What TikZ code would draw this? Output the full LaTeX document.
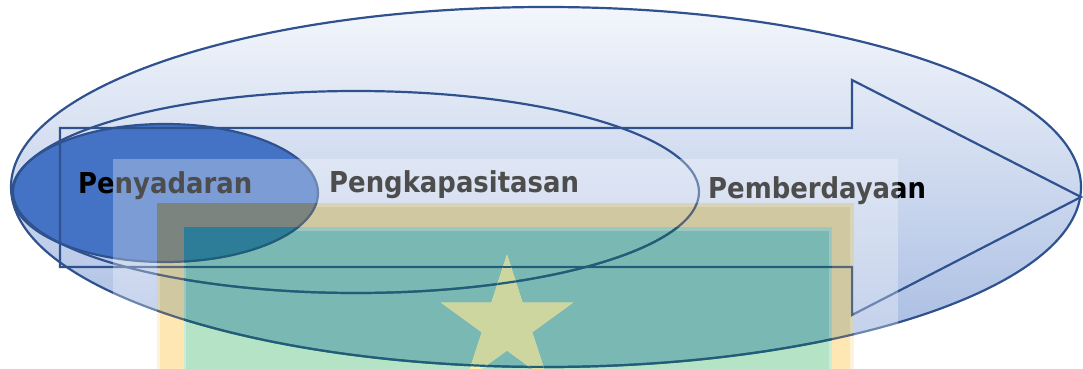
\documentclass[tikz,border=0pt]{standalone}
\usepackage{fontspec}
\newfontfamily\labelfont{DejaVu Sans Condensed}
\definecolor{lineblue}{HTML}{2F528F}
\definecolor{fillblue}{HTML}{4472C4}
\definecolor{gradtop}{HTML}{F3F6FB}
\definecolor{gradbottom}{HTML}{A4B9E1}
% emblem colours on the plain page
\definecolor{yellowlight}{HTML}{FFF2DA}
\definecolor{yellowmain}{HTML}{FFE7B3}
\definecolor{greenlight}{HTML}{CDEBD8}
\definecolor{greenmain}{HTML}{B4E3C5}
% emblem colours seen through the blue ellipse
\definecolor{tanlight}{HTML}{DAD4B6}
\definecolor{tanmain}{HTML}{D0C8A1}
\definecolor{teallight}{HTML}{9CC7C0}
\definecolor{tealmain}{HTML}{7AB8B3}
% blue shapes seen through the emblem
\definecolor{ovalonframe}{HTML}{7C8480}
\definecolor{ovalonfield}{HTML}{2E7D98}
\definecolor{lineonframe}{HTML}{56657A}
\definecolor{lineonfield}{HTML}{1F5E78}
\definecolor{starfill}{HTML}{CCD69E}
\definecolor{starbright}{HTML}{FFF0A0}
\begin{document}
\begin{tikzpicture}[x=1pt,y=-1pt,
  outline/.style={draw=lineblue, line width=2.2pt, line join=miter},
  steplabel/.style={font=\labelfont\bfseries\fontsize{28.8}{30}\selectfont,
    anchor=base west, inner sep=0pt, text=black}]
\useasboundingbox (0,0) rectangle (1083,369);
\clip (0,0) rectangle (1083,369);

% outer ellipse with vertical gradient
\path[top color=gradtop, bottom color=gradbottom]
  (546,187) ellipse [x radius=535pt, y radius=180pt];
% innermost stage
\fill[fillblue] (165,193) ellipse [x radius=153pt, y radius=69pt];

% outlines
\draw[outline] (546,187) ellipse [x radius=535pt, y radius=180pt];
\draw[outline] (356,192) ellipse [x radius=343pt, y radius=101pt];
\draw[outline] (165,193) ellipse [x radius=153pt, y radius=69pt];
\draw[outline] (60,128) -- (852,128) -- (852,80) -- (1081,197)
  -- (852,315) -- (852,267) -- (60,267) -- cycle;

% stage labels
\node[steplabel] (penyadaran) at (78,193) {Penyadaran};
\node[steplabel] (pengkapasitasan) at (329,192) {Pengkapasitasan};
\node[steplabel] (pemberdayaan) at (708,198) {Pemberdayaan};

% emblem backdrop
\fill[white, opacity=0.3] (113,159) rectangle (898,372);

% emblem on the plain page
\fill[yellowlight] (157,203) rectangle (854,372);
\fill[yellowmain] (160,207) rectangle (850,372);
\fill[greenlight] (184,227) rectangle (832,372);
\fill[greenmain] (186,231) rectangle (829,372);

% emblem where the blue ellipse lies over it
\begin{scope}
  \clip (546,187) ellipse [x radius=535pt, y radius=180pt];
  \fill[tanlight] (157,203) rectangle (854,372);
  \fill[tanmain] (160,207) rectangle (850,372);
  \fill[teallight] (184,227) rectangle (832,372);
  \fill[tealmain] (186,231) rectangle (829,372);
\end{scope}

% blue shapes showing through the yellow frame
\begin{scope}
  \clip (157,203) rectangle (854,372);
  \fill[ovalonframe] (165,193) ellipse [x radius=153pt, y radius=69pt];
  \begin{scope}[line width=2.2pt, draw=lineonframe]
    \draw (546,187) ellipse [x radius=535pt, y radius=180pt];
    \draw (356,192) ellipse [x radius=343pt, y radius=101pt];
    \draw (165,193) ellipse [x radius=153pt, y radius=69pt];
    \draw[line join=miter] (60,128) -- (852,128) -- (852,80) -- (1081,197)
      -- (852,315) -- (852,267) -- (60,267) -- cycle;
  \end{scope}
\end{scope}

% blue shapes showing through the green field
\begin{scope}
  \clip (184,227) rectangle (832,372);
  \fill[ovalonfield] (165,193) ellipse [x radius=153pt, y radius=69pt];
  \begin{scope}[line width=2.2pt, draw=lineonfield]
    \draw (546,187) ellipse [x radius=535pt, y radius=180pt];
    \draw (356,192) ellipse [x radius=343pt, y radius=101pt];
    \draw (165,193) ellipse [x radius=153pt, y radius=69pt];
    \draw (60,267) -- (852,267);
  \end{scope}
\end{scope}

% star of the emblem
\fill[starbright] (507,254.6) -- (522.6,302.6) -- (573,302.6) -- (532.2,332.2)
  -- (547.8,380.1) -- (507,350.5) -- (466.2,380.1) -- (481.8,332.2)
  -- (441,302.6) -- (491.4,302.6) -- cycle;
\begin{scope}
  \clip (546,187) ellipse [x radius=535pt, y radius=180pt];
  \fill[starfill] (507,254.6) -- (522.6,302.6) -- (573,302.6) -- (532.2,332.2)
    -- (547.8,380.1) -- (507,350.5) -- (466.2,380.1) -- (481.8,332.2)
    -- (441,302.6) -- (491.4,302.6) -- cycle;
\end{scope}
\begin{scope}
  \clip (507,254.6) -- (522.6,302.6) -- (573,302.6) -- (532.2,332.2)
    -- (547.8,380.1) -- (507,350.5) -- (466.2,380.1) -- (481.8,332.2)
    -- (441,302.6) -- (491.4,302.6) -- cycle;
  \begin{scope}[line width=2.2pt, draw=lineonfield]
    \draw (546,187) ellipse [x radius=535pt, y radius=180pt];
    \draw (356,192) ellipse [x radius=343pt, y radius=101pt];
    \draw (60,267) -- (852,267);
  \end{scope}
\end{scope}
\end{tikzpicture}
\end{document}
